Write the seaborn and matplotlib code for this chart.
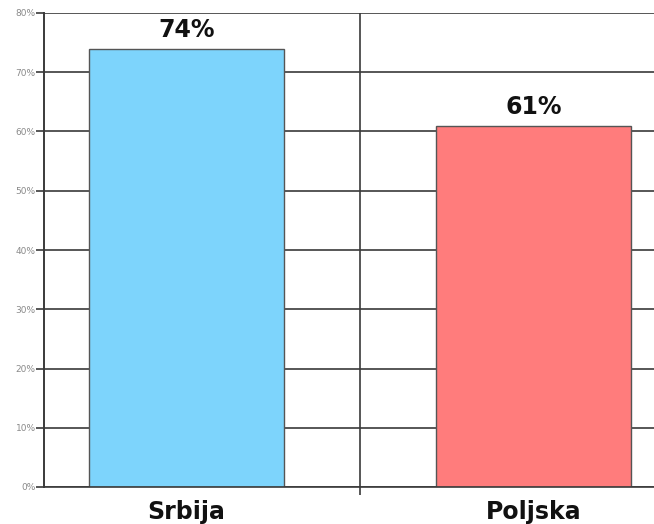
import matplotlib
matplotlib.use("Agg")
import matplotlib.pyplot as plt
import seaborn as sns
import pandas as pd

countries = ["Srbija", "Poljska"]
shares = [74, 61]
bar_colors = ["#7DD4FC", "#FF7C7C"]
y_ticks = [0, 10, 20, 30, 40, 50, 60, 70, 80]
y_tick_labels = ["0%", "10%", "20%", "30%", "40%", "50%", "60%", "70%", "80%"]

df = pd.DataFrame({"country": countries, "share": shares})

sns.set_theme(style="white")
plt.rcParams["font.family"] = ["DejaVu Sans"]

fig = plt.figure(figsize=(6.54, 5.24), dpi=100)
ax = fig.add_axes([44 / 654, 37 / 524, 610 / 654, 474 / 524])

sns.barplot(data=df, x="country", y="share", hue="country",
            palette=bar_colors, width=0.562, legend=False, ax=ax,
            edgecolor="#555555", linewidth=1.0, saturation=1)

ax.set_ylim(0, 80)
ax.set_xlim(-0.411, 1.347)
ax.set_yticks(y_ticks)
ax.set_yticklabels(y_tick_labels)
ax.yaxis.grid(True, color="#3a3a3a", linewidth=1.2)
ax.set_axisbelow(True)

# separator between the two categories, poking below the axis like a tick
ax.set_xticks([0.5], minor=True)
ax.xaxis.grid(True, which="minor", color="#3a3a3a", linewidth=1.2)
ax.tick_params(axis="x", which="minor", direction="out", length=6,
               width=1.2, color="#3a3a3a", bottom=True)
ax.tick_params(axis="x", which="major", length=0, pad=9,
               labelsize=17)
for lbl in ax.get_xticklabels():
    lbl.set_fontweight("bold")
    lbl.set_color("#111111")

ax.tick_params(axis="y", direction="out", length=6, width=1.2,
               color="#3a3a3a", labelsize=6.5, labelcolor="#8a8a8a", pad=0,
               left=True)

for side in ["top", "right"]:
    ax.spines[side].set_visible(False)
ax.spines["left"].set_color("#3a3a3a")
ax.spines["left"].set_linewidth(1.4)
ax.spines["bottom"].set_color("#3a3a3a")
ax.spines["bottom"].set_linewidth(1.2)

for i, v in enumerate(shares):
    ax.annotate(f"{v}%", (i, v), xytext=(0, 5), textcoords="offset points",
                ha="center", va="bottom", fontsize=17, fontweight="bold",
                color="#111111")

ax.set_xlabel("")
ax.set_ylabel("")

fig.savefig("out.png", dpi=100)
